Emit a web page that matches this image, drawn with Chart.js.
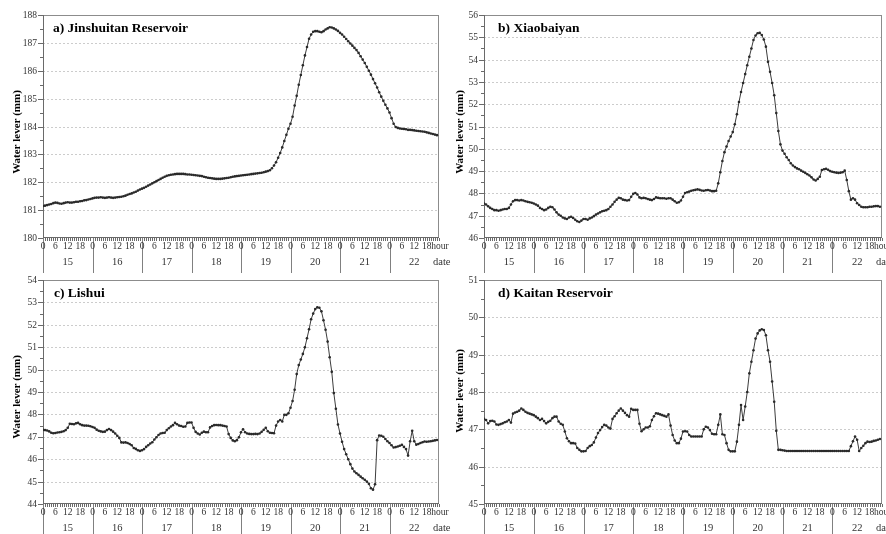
<!DOCTYPE html>
<html>
<head>
<meta charset="utf-8">
<script src="https://cdn.jsdelivr.net/npm/chart.js@4.4.1/dist/chart.umd.min.js"></script>
<style>
body{margin:0;background:#fff;width:886px;height:534px;position:relative;overflow:hidden}
canvas{position:absolute}
</style>
</head>
<body>
<canvas id="ca" width="452" height="275" style="left:0;top:0"></canvas>
<canvas id="cb" width="443" height="275" style="left:443px;top:0"></canvas>
<canvas id="cc" width="452" height="266" style="left:0;top:268px"></canvas>
<canvas id="cd" width="443" height="266" style="left:443px;top:268px"></canvas>
<script>
// x axis: 8 days, hourly readings
const days = ['15','16','17','18','19','20','21','22']
const hourTicks = [0, 6, 12, 18]

// water level, hourly from day 15 0h to day 22 23h
const jinshuitan = [
181.15,181.16,181.18,181.2,181.22,181.25,181.27,181.26,181.24,181.23,181.25,181.27,181.28,181.27,181.27,181.28,181.3,181.3,181.32,181.33,181.35,181.36,181.38,181.4,
181.42,181.44,181.45,181.45,181.46,181.45,181.44,181.45,181.46,181.45,181.44,181.45,181.46,181.47,181.48,181.5,181.52,181.55,181.58,181.6,181.63,181.66,181.7,181.74,
181.77,181.8,181.84,181.88,181.92,181.96,182.0,182.04,182.08,182.12,182.16,182.2,182.23,182.25,182.27,182.28,182.29,182.3,182.3,182.3,182.3,182.29,182.28,182.28,
182.27,182.26,182.25,182.24,182.23,182.22,182.2,182.18,182.16,182.15,182.14,182.13,182.12,182.12,182.12,182.13,182.14,182.15,182.16,182.18,182.2,182.21,182.22,182.23,
182.24,182.25,182.26,182.27,182.28,182.29,182.3,182.31,182.32,182.33,182.34,182.36,182.38,182.4,182.43,182.5,182.6,182.72,182.88,183.05,183.25,183.48,183.7,183.92,
184.1,184.35,184.75,185.1,185.5,185.85,186.2,186.55,186.85,187.15,187.3,187.4,187.42,187.42,187.4,187.38,187.42,187.48,187.52,187.56,187.55,187.52,187.48,187.43,
187.36,187.3,187.22,187.14,187.06,186.98,186.9,186.82,186.74,186.64,186.52,186.4,186.28,186.14,186.0,185.86,185.7,185.55,185.4,185.23,185.07,184.92,184.78,184.65,
184.5,184.3,184.1,183.98,183.95,183.93,183.92,183.91,183.9,183.88,183.88,183.87,183.86,183.85,183.84,183.83,183.82,183.81,183.79,183.77,183.75,183.73,183.71,183.69
]

const xiaobaiyan = [
47.55,47.5,47.42,47.35,47.3,47.25,47.25,47.22,47.25,47.28,47.3,47.3,47.35,47.5,47.65,47.7,47.7,47.68,47.7,47.68,47.65,47.62,47.6,47.58,
47.55,47.5,47.45,47.35,47.3,47.25,47.28,47.35,47.4,47.38,47.28,47.15,47.05,47.0,46.92,46.88,46.85,46.92,46.95,46.9,46.82,46.75,46.72,46.78,
46.85,46.85,46.82,46.88,46.92,46.98,47.05,47.1,47.15,47.2,47.22,47.25,47.3,47.4,47.5,47.62,47.72,47.8,47.78,47.72,47.7,47.68,47.7,47.85,
47.98,48.02,47.95,47.82,47.78,47.8,47.78,47.75,47.72,47.7,47.75,47.82,47.8,47.78,47.78,47.78,47.76,47.78,47.78,47.72,47.65,47.58,47.6,47.68,
47.85,48.02,48.05,48.08,48.12,48.14,48.16,48.18,48.16,48.13,48.12,48.14,48.15,48.13,48.1,48.1,48.12,48.45,48.95,49.45,49.85,50.1,50.35,50.55,
50.75,51.1,51.55,52.1,52.55,52.95,53.35,53.75,54.13,54.5,54.88,55.08,55.18,55.2,55.1,54.9,54.58,53.9,53.45,52.95,52.4,51.6,50.8,50.2,
49.92,49.78,49.62,49.5,49.35,49.25,49.18,49.12,49.08,49.02,48.97,48.92,48.86,48.8,48.72,48.62,48.58,48.65,48.75,49.05,49.08,49.1,49.06,49.0,
48.97,48.95,48.93,48.92,48.93,48.95,49.02,48.6,48.1,47.72,47.78,47.72,47.56,47.48,47.4,47.38,47.38,47.38,47.4,47.4,47.42,47.43,47.43,47.4
]

const lishui = [
47.31,47.3,47.28,47.24,47.18,47.16,47.17,47.19,47.2,47.22,47.25,47.3,47.4,47.58,47.57,47.56,47.6,47.62,47.56,47.52,47.5,47.5,47.49,47.47,
47.44,47.4,47.32,47.27,47.24,47.22,47.23,47.3,47.35,47.3,47.23,47.15,47.05,46.95,46.75,46.74,46.75,46.72,46.68,46.62,46.5,46.46,46.4,46.37,
46.4,46.45,46.55,46.62,46.7,46.76,46.88,46.98,47.08,47.15,47.17,47.18,47.3,47.38,47.46,47.52,47.62,47.56,47.5,47.48,47.45,47.46,47.62,47.64,
47.64,47.4,47.22,47.15,47.1,47.18,47.23,47.2,47.2,47.42,47.48,47.52,47.53,47.52,47.52,47.5,47.48,47.46,47.12,46.95,46.84,46.8,46.85,46.98,
47.2,47.34,47.2,47.15,47.13,47.12,47.12,47.13,47.12,47.15,47.22,47.31,47.4,47.25,47.18,47.17,47.16,47.5,47.68,47.75,47.68,47.98,47.98,48.05,
48.3,48.6,49.1,49.8,50.2,50.45,50.7,51.0,51.4,51.8,52.25,52.5,52.7,52.78,52.76,52.6,52.2,51.78,51.25,50.55,49.9,48.95,48.25,47.55,
47.15,46.78,46.45,46.22,46.0,45.78,45.58,45.45,45.37,45.3,45.22,45.15,45.08,45.0,44.9,44.7,44.64,44.88,46.85,47.06,47.05,47.0,46.9,46.8,
46.72,46.62,46.52,46.54,46.57,46.6,46.64,46.55,46.45,46.16,46.8,47.27,46.8,46.65,46.68,46.72,46.76,46.79,46.78,46.79,46.8,46.82,46.84,46.86
]

const kaitan = [
47.28,47.25,47.16,47.22,47.23,47.21,47.13,47.12,47.14,47.16,47.19,47.21,47.25,47.18,47.42,47.45,47.47,47.5,47.56,47.52,47.47,47.44,47.42,47.4,
47.38,47.34,47.3,47.25,47.28,47.22,47.16,47.2,47.23,47.3,47.34,47.34,47.21,47.15,47.12,46.94,46.76,46.68,46.63,46.63,46.62,46.5,46.45,46.41,
46.41,46.42,46.5,46.55,46.58,46.65,46.78,46.9,46.98,47.06,47.12,47.1,47.05,47.02,47.28,47.35,47.43,47.5,47.56,47.5,47.44,47.38,47.34,47.55,
47.52,47.52,47.52,47.15,46.95,47.0,47.05,47.05,47.08,47.25,47.35,47.43,47.42,47.4,47.38,47.36,47.34,47.4,47.1,46.85,46.7,46.63,46.63,46.75,
46.94,46.95,46.94,46.85,46.81,46.81,46.81,46.81,46.81,46.81,47.0,47.07,47.05,46.98,46.88,46.87,46.87,47.12,47.4,46.87,46.85,46.63,46.45,46.41,
46.41,46.41,46.67,47.12,47.65,47.25,47.61,48.0,48.5,48.81,49.12,49.43,49.57,49.65,49.68,49.66,49.52,49.12,48.81,48.28,47.74,46.96,46.45,46.45,
46.44,46.43,46.42,46.42,46.42,46.42,46.42,46.42,46.42,46.42,46.42,46.42,46.42,46.42,46.42,46.42,46.42,46.42,46.42,46.42,46.42,46.42,46.42,46.42,
46.42,46.42,46.42,46.42,46.42,46.42,46.42,46.42,46.42,46.55,46.68,46.81,46.72,46.42,46.5,46.56,46.63,46.67,46.66,46.67,46.69,46.7,46.72,46.74
]

const FONT = '"Liberation Serif", "Times New Roman", serif'

function line(ctx, x1, y1, x2, y2){
    ctx.beginPath()
    ctx.moveTo(x1, y1)
    ctx.lineTo(x2, y2)
    ctx.stroke()
}

// axes, grid, hour/date rows and panel title drawn from the chart's scales
const panelPlugin = {
    id: 'panel',
    beforeDatasetsDraw(chart, args, o){
        const ctx = chart.ctx
        const {left, right, top, bottom} = chart.chartArea
        const xs = chart.scales.x
        const ys = chart.scales.y
        ctx.save()
        ctx.lineWidth = 1

        // dotted grid
        ctx.strokeStyle = '#cccccc'
        ctx.setLineDash([2, 2])
        for(let v = o.yMin + 1; v < o.yMax; v++){
            const y = Math.round(ys.getPixelForValue(v)) + 0.5
            line(ctx, left, y, right, y)
        }
        ctx.setLineDash([])

        // frame
        ctx.strokeStyle = '#8c8c8c'
        ctx.strokeRect(left + 0.5, top + 0.5, right - left - 1, bottom - top - 1)
        ctx.strokeStyle = '#6a6a6a'
        line(ctx, left + 0.5, top, left + 0.5, bottom)
        line(ctx, left, bottom - 0.5, right, bottom - 0.5)

        // y ticks + labels
        ctx.fillStyle = '#333'
        ctx.font = '9.5px ' + FONT
        ctx.textAlign = 'right'
        ctx.textBaseline = 'middle'
        for(let v = o.yMin; v <= o.yMax + 0.001; v += 0.5){
            const y = Math.round(ys.getPixelForValue(v)) + 0.5
            const major = Math.abs(v - Math.round(v)) < 0.01
            line(ctx, left - (major ? 5 : 3), y, left, y)
            if(major) ctx.fillText(String(v), left - 6, y)
        }

        // x hourly ticks
        for(let h = 0; h <= days.length * 24; h++){
            const x = Math.round(xs.getPixelForValue(h)) + 0.5
            line(ctx, x, bottom, x, bottom + 3)
        }

        // day separators
        ctx.strokeStyle = '#808080'
        days.forEach((d, i) => {
            const x = Math.round(xs.getPixelForValue(i * 24)) + 0.5
            line(ctx, x, bottom, x, bottom + o.sepLen)
        })

        // hour labels and date labels
        ctx.textAlign = 'center'
        ctx.fillStyle = '#333'
        days.forEach((d, i) => {
            ctx.font = '9.5px ' + FONT
            hourTicks.forEach(t => {
                ctx.fillText(String(t), xs.getPixelForValue(i * 24 + t), bottom + 8)
            })
            ctx.font = '10.5px ' + FONT
            ctx.fillText(d, xs.getPixelForValue(i * 24 + 12), bottom + 24)
        })
        const xLast = xs.getPixelForValue((days.length - 1) * 24 + 18)
        ctx.textAlign = 'left'
        ctx.font = '9.5px ' + FONT
        ctx.fillText('hour', xLast + 4.5, bottom + 8)
        ctx.font = '10.5px ' + FONT
        ctx.fillText('date', right - 6, bottom + 24)

        // panel title
        ctx.fillStyle = '#000'
        ctx.font = 'bold 13.5px ' + FONT
        ctx.textBaseline = 'alphabetic'
        ctx.fillText(o.title, left + o.titleDx, top + 17)

        // y axis title
        ctx.translate(o.yTitleX, o.yTitleY)
        ctx.rotate(-Math.PI / 2)
        ctx.textAlign = 'center'
        ctx.textBaseline = 'middle'
        ctx.font = 'bold 11px ' + FONT
        ctx.fillText('Water lever (mm)', 0, 0)
        ctx.restore()
    }
}

function makePanel(id, values, cfg){
    const ctx = document.getElementById(id)
    new Chart(ctx, {
        type: 'line',
        data: {
            datasets: [{
                data: values.map((v, i) => ({x: i, y: v})),
                borderColor: '#3c3c3c',
                borderWidth: 1,
                pointRadius: 1.3,
                pointBackgroundColor: '#2a2a2a',
                pointBorderWidth: 0,
                tension: 0
            }]
        },
        options: {
            responsive: false,
            animation: false,
            events: [],
            layout: {autoPadding: false, padding: cfg.padding},
            scales: {
                x: {type: 'linear', display: false, min: 0, max: days.length * 24},
                y: {type: 'linear', display: false, min: cfg.yMin, max: cfg.yMax}
            },
            plugins: {
                legend: {display: false},
                tooltip: {enabled: false},
                panel: cfg
            }
        },
        plugins: [panelPlugin]
    })
}

makePanel('ca', jinshuitan, {
    title: 'a) Jinshuitan Reservoir', yMin: 180, yMax: 188,
    padding: {left: 43, top: 15, right: 13, bottom: 37},
    titleDx: 10, yTitleX: 17, yTitleY: 132, sepLen: 35
})
makePanel('cb', xiaobaiyan, {
    title: 'b) Xiaobaiyan', yMin: 46, yMax: 56,
    padding: {left: 41, top: 15, right: 4, bottom: 37},
    titleDx: 14, yTitleX: 17, yTitleY: 132, sepLen: 35
})
makePanel('cc', lishui, {
    title: 'c) Lishui', yMin: 44, yMax: 54,
    padding: {left: 43, top: 12, right: 13, bottom: 30},
    titleDx: 11, yTitleX: 17, yTitleY: 129, sepLen: 30
})
makePanel('cd', kaitan, {
    title: 'd) Kaitan Reservoir', yMin: 45, yMax: 51,
    padding: {left: 41, top: 12, right: 4, bottom: 30},
    titleDx: 14, yTitleX: 17, yTitleY: 123, sepLen: 30
})
</script>
</body>
</html>
